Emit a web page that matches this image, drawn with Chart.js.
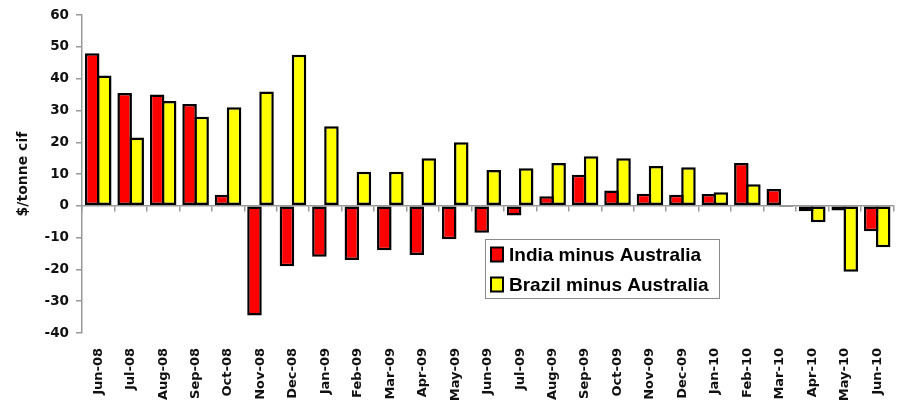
<!DOCTYPE html>
<html>
<head>
<meta charset="utf-8">
<script src="https://cdn.jsdelivr.net/npm/chart.js@4/dist/chart.umd.min.js"></script>
<style>
html,body{margin:0;padding:0;background:#fff;}
#wrap{width:908px;height:401px;}
</style>
</head>
<body>
<div id="wrap"><canvas id="c" width="908" height="401"></canvas></div>
<script>
const categories = ['Jun-08','Jul-08','Aug-08','Sep-08','Oct-08','Nov-08','Dec-08','Jan-09','Feb-09','Mar-09','Apr-09','May-09','Jun-09','Jul-09','Aug-09','Sep-09','Oct-09','Nov-09','Dec-09','Jan-10','Feb-10','Mar-10','Apr-10','May-10','Jun-10'];
const indiaMinusAustralia = [48, 35.5, 35, 32, 3.5, -34.5, -19, -16, -17, -14, -15.5, -10.5, -8.5, -3, 3, 9.8, 4.8, 3.8, 3.5, 3.7, 13.5, 5.3, -1.7, -1.5, -8];
const brazilMinusAustralia = [41, 21.5, 33, 28, 31, 36, 47.5, 25, 10.7, 10.7, 15, 20, 11.3, 11.8, 13.5, 15.6, 15, 12.5, 12.1, 4.3, 6.8, -0.4, -5.2, -20.7, -13];
const seriesNames = ['India minus Australia', 'Brazil minus Australia'];
const yTitle = '$/tonne cif';
const yMin = -40, yMax = 60, yStep = 10;

const gray = '#999999';
const tickFont = {family: 'DejaVu Sans', weight: 'bold', size: 13.5};

const legendPlugin = {
  id: 'boxLegend',
  afterDraw(chart) {
    const ctx = chart.ctx;
    const bx = 485.5, by = 239.5, bw = 234, bh = 59;
    ctx.save();
    ctx.fillStyle = '#fff';
    ctx.fillRect(bx, by, bw, bh);
    ctx.strokeStyle = '#8a8a8a';
    ctx.lineWidth = 1;
    ctx.strokeRect(bx, by, bw, bh);
    ctx.font = 'bold 19px "Liberation Sans", Arial, sans-serif';
    ctx.textBaseline = 'middle';
    ctx.textAlign = 'left';
    chart.data.datasets.forEach((ds, i) => {
      const cy = by + 15 + i * 30;
      ctx.fillStyle = ds.backgroundColor;
      ctx.fillRect(491, cy - 7, 12, 14);
      ctx.strokeStyle = '#000';
      ctx.lineWidth = 2;
      ctx.strokeRect(491, cy - 7, 12, 14);
      ctx.fillStyle = '#000';
      ctx.fillText(ds.label, 509, cy + 1);
    });
    ctx.restore();
  }
};

const barStyle = {borderColor: '#000', borderWidth: 2.5, borderSkipped: false, barPercentage: 1.207, categoryPercentage: 0.742};

new Chart(document.getElementById('c'), {
  type: 'bar',
  data: {
    labels: categories,
    datasets: [
      Object.assign({label: seriesNames[0], data: indiaMinusAustralia, backgroundColor: '#ff0000'}, barStyle),
      Object.assign({label: seriesNames[1], data: brazilMinusAustralia, backgroundColor: '#ffff00'}, barStyle)
    ]
  },
  options: {
    responsive: false,
    animation: false,
    layout: {padding: {top: 14, right: 11, left: 0, bottom: 0}},
    plugins: {legend: {display: false}, tooltip: {enabled: false}},
    scales: {
      x: {
        axis: 'x', type: 'category', position: {y: 0}, offset: true,
        ticks: {display: false},
        grid: {offset: true, drawOnChartArea: false, drawTicks: true, tickLength: 5, color: gray, lineWidth: 1.5},
        border: {color: gray, width: 1.5}
      },
      x2: {
        axis: 'x', type: 'category', position: 'bottom', offset: true,
        grid: {display: false, drawTicks: false},
        border: {display: false},
        ticks: {minRotation: 90, maxRotation: 90, autoSkip: false, padding: 15, font: {family: 'DejaVu Sans', weight: 'bold', size: 13}, color: '#111'},
        afterFit(s) { s.height = 68; }
      },
      y: {
        min: yMin, max: yMax,
        ticks: {stepSize: yStep, padding: 7, font: tickFont, color: '#111'},
        grid: {drawOnChartArea: false, drawTicks: true, tickLength: 6, color: gray, lineWidth: 1.5},
        border: {color: gray, width: 1.5},
        title: {display: true, text: yTitle, font: {family: 'DejaVu Sans', weight: 'bold', size: 14}, color: '#111', padding: {top: 15, bottom: 0}},
        afterFit(s) { s.width = 82; }
      }
    }
  },
  plugins: [legendPlugin]
});
</script>
</body>
</html>
